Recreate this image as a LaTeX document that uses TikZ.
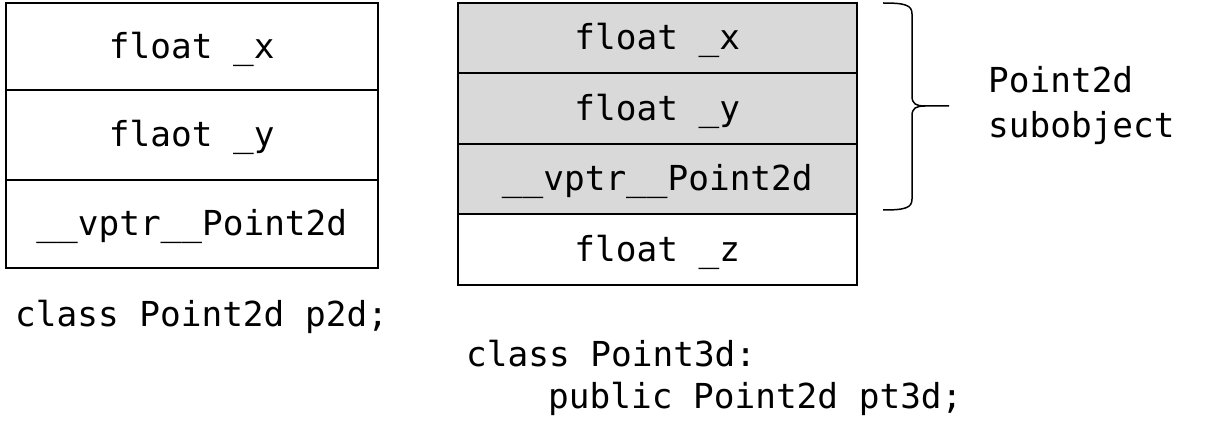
\documentclass[tikz,border=0pt]{standalone}
\usepackage{fontspec}
\setmonofont{DejaVu Sans Mono}
\begin{document}
\begin{tikzpicture}[x=1pt,y=-1pt,
  cell/.style={draw=black,line width=1.6pt,minimum width=#1,inner sep=0pt,font=\ttfamily\fontsize{34.4}{40}\selectfont,anchor=north west,text depth=2pt},
  lbl/.style={font=\ttfamily\fontsize{34.4}{45}\selectfont,inner sep=0pt,anchor=west,align=left},
  gcell/.style={fill=gray!30}]
\useasboundingbox (0,0) rectangle (1209,430);
% left object
\node[cell=372pt,minimum height=87pt] (a1) at (5,2) {float \_x};
\node[cell=372pt,minimum height=90pt] (a2) at (5,89) {flaot \_y};
\node[cell=372pt,minimum height=88pt] (a3) at (5,179) {\_\_vptr\_\_Point2d};
% right object
\node[cell=399pt,minimum height=70pt,gcell] (b1) at (457,2) {float \_x};
\node[cell=399pt,minimum height=71pt,gcell] (b2) at (457,72) {float \_y};
\node[cell=399pt,minimum height=70pt,gcell] (b3) at (457,143) {\_\_vptr\_\_Point2d};
\node[cell=399pt,minimum height=71pt] (b4) at (457,213) {float \_z};
% brace
\coordinate (bt) at (883,3);
\coordinate (bb) at (883,210);
\coordinate (bm) at (949,106);
\draw[line width=1.5pt] (bt) .. controls (905,3) and (912,5) .. (912,14)
  -- (912,96) .. controls (912,104) and (916,106) .. (925,106) -- (bm);
\draw[line width=1.5pt] (bb) .. controls (905,210) and (912,208) .. (912,199)
  -- (912,116) .. controls (912,108) and (916,106) .. (925,106);
\node[lbl] (sub) at (988,106) {Point2d\\subobject};
% captions
\node[lbl] (c1) at (15,317) {class Point2d p2d;};
\node[lbl] (c2) at (466,354) {class Point3d:};
\node[lbl] (c3) at (548,399) {public Point2d pt3d;};
\end{tikzpicture}
\end{document}
